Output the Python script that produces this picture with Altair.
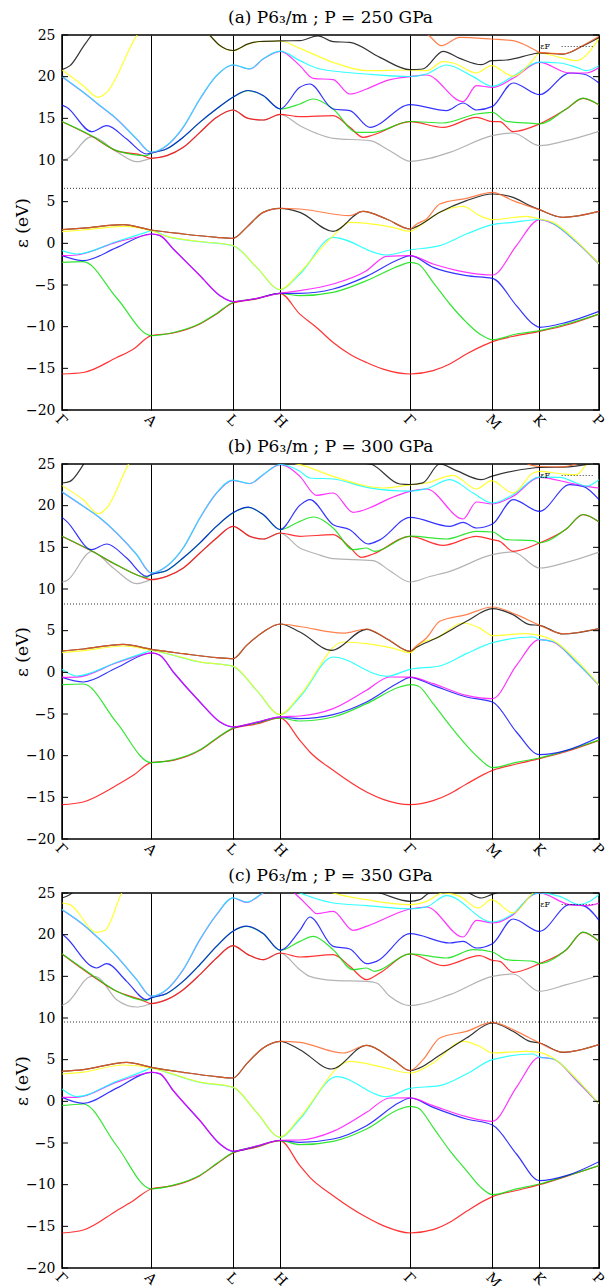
import altair as alt
import pandas as pd

# High-symmetry points along the k-path (path-length units) and their labels
K_LABELS = ["Γ", "A", "L", "H", "Γ", "M", "K", "P"]
K_TICKS = [0.0, 89.3, 171.0, 218.3, 348.3, 430.7, 477.7, 537.3]
G0, A, L, H, G1, M, K, P = K_TICKS
E_TICKS = list(range(-20, 26, 5))
E_RANGE = [-20, 25]

# gnuplot colour cycle used for successive bands
BAND_COLORS = ["#ff0000", "#00e000", "#0000ff", "#ff00ff", "#00ffff",
               "#ffff00", "#000000", "#ff6020", "#a0a0a0"]

# ---------------- (a) 250 GPa ----------------
A_EF = 6.6
A_B01 = [(G0,-15.68),(21.3,-15.5),(54.7,-13.7),(71.3,-12.7),(A,-11.08),(111.3,-10.76),(138,-9.68),(154.7,-8.48),(L,-7.16),(194.7,-6.68),(H,-6.0),(238,-8.5),(254.7,-10.1),(271.3,-11.9),(288,-13.3),(304.7,-14.3),(321.3,-15.1),(G1,-15.68),(371.3,-15.28),(388,-14.48),(404.7,-13.28),(421.3,-12.28),(M,-11.8),(454.7,-11.08),(K,-10.56),(504.7,-9.8),(P,-8.48)]
A_B02 = [(G0,-2.28),(21.3,-2.2),(54.7,-6.56),(A,-11.08),(111.3,-10.7),(138,-9.62),(154.7,-8.42),(L,-7.1),(194.7,-6.62),(H,-6.0),(238,-6.28),(271.3,-5.88),(304.7,-4.48),(338,-2.68),(G1,-2.28),(356.3,-2.48),(371.3,-4.68),(388,-7.28),(404.7,-9.48),(418,-10.88),(M,-11.56),(454.7,-10.88),(K,-10.48),(504.7,-9.68),(P,-8.48)]
A_B03 = [(G0,-1.48),(21.3,-2.08),(54.7,-0.51),(A,1.12),(98,0.92),(111.3,-0.68),(138,-3.88),(158,-6.28),(L,-7.0),(194.7,-6.62),(H,-6.0),(238,-6.0),(271.3,-5.48),(304.7,-3.96),(338,-1.88),(G1,-1.48),(371.3,-2.88),(404.7,-3.88),(M,-4.2),(454.7,-7.48),(471.3,-9.68),(K,-10.08),(504.7,-9.48),(P,-8.16)]
A_B04 = [(G0,-1.48),(14.7,-1.4),(54.7,0.15),(84.7,1.0),(A,1.12),(98,0.95),(111.3,-0.66),(138,-3.86),(158,-6.26),(L,-6.98),(194.7,-6.6),(H,-5.98),(238,-5.68),(271.3,-4.88),(304.7,-3.28),(324.7,-1.56),(G1,-1.48),(371.3,-2.48),(404.7,-3.48),(M,-3.8),(454.7,-0.28),(474.7,2.72),(K,2.84),(491.3,2.36),(514.7,0.14),(P,-2.48)]
A_B05 = [(G0,-0.88),(14.7,-1.28),(54.7,0.22),(84.7,1.35),(A,1.52),(104.7,0.84),(138,0.2),(L,-0.28),(194.7,-2.88),(H,-5.56),(238,-3.68),(271.3,0.72),(324.7,-1.4),(G1,-0.8),(378,-0.28),(404.7,1.12),(M,2.24),(451.3,2.52),(K,2.86),(491.3,2.4),(514.7,0.17),(P,-2.46)]
A_B06 = [(G0,1.4),(21.3,1.6),(61.3,2.04),(A,1.52),(104.7,0.86),(138,0.22),(L,-0.26),(194.7,-2.86),(H,-5.54),(238,-3.48),(271.3,0.9),(288,2.52),(304.7,2.4),(331,1.92),(G1,1.44),(358,2.12),(378,3.72),(401.3,4.44),(418,3.32),(M,2.84),(464.7,3.24),(K,2.92),(491.3,2.52),(514.7,0.3),(P,-2.44)]
A_B07 = [(G0,1.64),(21.3,1.82),(61.3,2.24),(A,1.6),(121.3,1.12),(154.7,0.72),(L,0.6),(184.7,1.92),(201.3,3.72),(H,4.2),(238,3.72),(271.3,1.44),(301,3.84),(324.7,2.92),(G1,1.72),(354.7,2.0),(378,3.72),(404.7,5.12),(M,5.92),(451.3,5.52),(468,4.52),(K,4.04),(501.3,3.12),(P,3.84)]
A_B08 = [(G0,1.64),(21.3,1.82),(61.3,2.24),(A,1.6),(121.3,1.12),(154.7,0.72),(L,0.6),(184.7,1.92),(201.3,3.72),(H,4.2),(238,4.12),(288,3.32),(301,3.84),(324.7,2.92),(G1,1.72),(354.7,2.3),(364.7,2.92),(378,4.72),(404.7,5.4),(M,6.12),(451.3,5.12),(K,4.04),(501.3,3.12),(P,3.84)]
A_B09 = [(G0,9.96),(4.7,10.12),(29.7,12.8),(54.7,11.0),(74.7,9.8),(A,10.2),(104.7,10.5),(121.3,11.5),(138,13.3),(154.7,15.1),(L,15.98),(186.3,14.98),(201.3,14.78),(H,15.46),(238,14.12),(254.7,13.2),(271.3,12.6),(308,12.32),(328,11.12),(G1,9.84),(368,10.2),(388,10.92),(M,12.92),(451.3,13.24),(K,11.72),(504.7,12.32),(P,13.44)]
A_B10 = [(G0,14.6),(29.7,12.85),(54.7,11.1),(79,10.6),(A,10.2),(104.7,10.52),(121.3,11.52),(138,13.32),(154.7,15.12),(L,16.0),(186.3,15.0),(201.3,14.8),(H,15.48),(238,15.2),(271.3,15.32),(288,13.92),(301.3,12.72),(311.3,13.0),(G1,14.6),(381.3,13.92),(414.7,15.12),(M,14.6),(438,14.6),(451.3,13.4),(K,14.32),(504.7,16.12),(521.3,17.4),(P,16.6)]
A_B11 = [(G0,14.6),(29.7,12.9),(54.7,11.12),(84.7,10.52),(A,10.8),(104.7,11.32),(121.3,12.72),(138,14.52),(154.7,16.12),(L,17.52),(186.3,18.32),(201.3,17.72),(H,16.12),(238,16.72),(251.3,17.32),(271.3,16.12),(294.7,13.32),(311.3,13.32),(G1,14.62),(381.3,14.44),(414.7,15.52),(M,15.72),(444.7,14.64),(471.3,14.4),(K,14.34),(504.7,16.14),(521.3,17.42),(P,16.62)]
A_B12 = [(G0,16.6),(4.7,16.32),(29.7,13.4),(44.7,14.12),(64.7,12.52),(84.7,10.72),(A,10.84),(104.7,11.34),(121.3,12.74),(138,14.54),(154.7,16.14),(L,17.54),(186.3,18.34),(201.3,17.74),(H,16.14),(238,18.72),(248,19.12),(271.3,16.12),(288,15.92),(308,13.92),(G1,16.64),(384.7,15.92),(401.3,16.84),(414.7,16.0),(M,16.44),(451.3,19.24),(K,17.84),(508,20.44),(521.3,20.32),(P,19.24)]
A_B13 = [(G0,20.0),(21.3,18.12),(38,16.52),(54.7,14.92),(74.7,12.52),(A,10.92),(104.7,11.72),(121.3,13.92),(138,17.32),(154.7,20.12),(L,21.4),(188,20.92),(201.3,22.12),(H,23.04),(238,21.32),(251.3,19.8),(271.3,19.64),(288,17.92),(304.7,18.52),(324.7,19.52),(G1,20.0),(364.7,20.2),(401.3,17.0),(414.7,18.92),(M,18.72),(451.3,19.8),(K,21.72),(508,20.44),(524.7,20.44),(P,21.1)]
A_B14 = [(G0,20.02),(21.3,18.14),(38,16.54),(54.7,14.94),(74.7,12.54),(A,10.94),(104.7,11.74),(121.3,13.94),(138,17.34),(154.7,20.14),(L,21.42),(188,20.94),(201.3,22.14),(H,23.06),(238,21.92),(258,20.92),(304.7,20.32),(G1,20.02),(364.7,20.32),(384.7,21.4),(411.3,20.0),(M,18.84),(451.3,20.04),(K,21.74),(498,21.64),(514.7,21.12),(524.7,20.72),(P,21.32)]
A_B15 = [(G0,20.8),(21.3,18.92),(36.3,17.52),(44.7,18.12),(74.7,24.92),(110,29.0),(148,24.92),(158,23.72),(L,23.12),(186.3,23.92),(198,24.2),(H,24.28),(238,23.4),(271.3,21.72),(304.7,20.72),(G1,20.8),(364.7,20.72),(381.3,21.8),(391.3,21.64),(414.7,20.44),(429.7,21.32),(451.3,20.06),(471.3,22.0),(K,22.84),(498,22.32),(514.7,21.92),(P,24.6)]
A_B16 = [(G0,20.84),(8,21.32),(21.3,23.6),(29.7,25.0),(60,29.0),(110,30.0),(148,24.94),(158,23.74),(L,23.14),(186.3,23.94),(198,24.22),(H,24.3),(238,24.32),(256,24.9),(271.3,24.2),(288,24.12),(318,22.32),(G1,20.84),(361,20.92),(381.3,23.04),(398,22.2),(419.7,21.44),(429.7,21.92),(444.7,22.0),(471.3,22.72),(K,22.86),(501.3,22.7),(521.3,23.7),(P,24.7)]
A_B17 = [(G1,27.0),(368,24.84),(379.7,23.72),(398,24.72),(429.7,24.52),(451.3,24.32),(471.3,23.32),(K,22.92),(501.3,22.74),(521.3,23.74),(P,24.84)]

# ---------------- (b) 300 GPa ----------------
B_EF = 8.2
B_B01 = [(G0,-15.88),(21.3,-15.56),(54.7,-13.56),(71.3,-12.36),(A,-10.84),(111.3,-10.56),(138,-9.36),(154.7,-7.96),(L,-6.76),(194.7,-6.2),(H,-5.48),(238,-8.16),(248,-9.56),(271.3,-11.76),(304.7,-14.36),(321.3,-15.24),(G1,-15.88),(371.3,-15.4),(388,-14.56),(404.7,-13.4),(M,-11.76),(454.7,-11.0),(K,-10.36),(504.7,-9.5),(P,-8.16)]
B_B02 = [(G0,-1.48),(21.3,-1.4),(54.7,-6.04),(A,-10.84),(111.3,-10.5),(138,-9.3),(154.7,-7.9),(L,-6.7),(194.7,-6.1),(H,-5.48),(238,-5.84),(271.3,-5.36),(304.7,-3.76),(338,-1.76),(G1,-1.48),(356.3,-1.64),(371.3,-3.76),(388,-6.36),(404.7,-8.76),(418,-10.4),(M,-11.44),(454.7,-10.8),(K,-10.28),(504.7,-9.4),(P,-8.14)]
B_B03 = [(G0,-0.6),(21.3,-1.16),(54.7,0.55),(A,2.32),(98,2.04),(111.3,0.04),(138,-3.56),(158,-5.96),(L,-6.56),(194.7,-6.0),(H,-5.36),(238,-5.56),(271.3,-5.08),(304.7,-3.56),(338,-1.16),(G1,-0.6),(371.3,-1.56),(404.7,-2.96),(M,-3.56),(454.7,-7.16),(K,-9.88),(504.7,-9.36),(P,-7.76)]
B_B04 = [(G0,-0.6),(14.7,-0.58),(54.7,1.15),(84.7,2.25),(A,2.34),(98,2.06),(111.3,0.06),(138,-3.54),(158,-5.94),(L,-6.54),(194.7,-5.98),(H,-5.34),(238,-5.24),(271.3,-4.36),(304.7,-2.16),(328,-0.56),(G1,-0.58),(371.3,-1.36),(404.7,-2.76),(M,-3.16),(454.7,0.84),(K,3.92),(491.3,3.64),(514.7,1.2),(P,-1.56)]
B_B05 = [(G0,0.36),(14.7,-0.44),(54.7,1.21),(84.7,2.45),(A,2.64),(104.7,2.24),(138,1.24),(L,0.72),(194.7,-2.16),(H,-5.08),(238,-2.96),(271.3,1.84),(324.7,-0.48),(G1,0.36),(378,0.76),(404.7,2.24),(M,3.56),(471.3,4.24),(K,3.96),(491.3,3.7),(514.7,1.24),(P,-1.54)]
B_B06 = [(G0,2.36),(21.3,2.6),(61.3,3.16),(A,2.66),(104.7,2.26),(138,1.26),(L,0.74),(194.7,-2.14),(H,-5.06),(238,-2.76),(281.3,3.64),(304.7,3.44),(331,2.9),(G1,2.36),(358,3.4),(374.7,4.12),(401.3,5.92),(418,5.3),(M,4.4),(464.7,4.64),(K,4.44),(491.3,3.84),(514.7,1.5),(P,-1.52)]
B_B07 = [(G0,2.56),(21.3,2.8),(61.3,3.36),(A,2.76),(121.3,2.24),(154.7,1.76),(L,1.64),(184.7,3.24),(201.3,4.84),(H,5.8),(238,4.84),(269.7,2.64),(304.7,5.16),(324.7,4.04),(G1,2.52),(354.7,3.0),(374.7,4.12),(404.7,6.12),(M,7.64),(451.3,6.92),(468,5.72),(K,5.64),(501.3,4.6),(P,5.24)]
B_B08 = [(G0,2.56),(21.3,2.8),(61.3,3.36),(A,2.76),(121.3,2.24),(154.7,1.76),(L,1.64),(184.7,3.24),(201.3,4.84),(H,5.8),(238,5.5),(281.3,4.7),(304.7,5.2),(324.7,4.06),(G1,2.54),(354.7,3.2),(364.7,4.12),(378,6.12),(404.7,6.92),(M,7.84),(454.7,6.92),(K,5.66),(501.3,4.62),(P,5.26)]
B_B09 = [(G0,10.84),(4.7,11.0),(29.7,14.5),(51.3,12.52),(74.7,10.64),(A,11.12),(104.7,11.5),(121.3,12.5),(138,14.3),(154.7,16.1),(L,17.5),(188,16.3),(201.3,15.98),(H,16.7),(238,14.92),(254.7,14.2),(271.3,13.64),(311.3,13.4),(328,12.2),(G1,10.84),(368,11.5),(388,12.12),(M,14.12),(451.3,14.44),(K,12.52),(504.7,13.2),(P,14.44)]
B_B10 = [(G0,16.32),(29.7,14.55),(51.3,13.1),(79,11.5),(A,11.12),(104.7,11.52),(121.3,12.52),(138,14.32),(154.7,16.12),(L,17.52),(188,16.32),(201.3,16.0),(H,16.72),(238,16.32),(271.3,16.52),(288,15.0),(299.7,13.8),(311.3,14.2),(G1,16.32),(381.3,15.24),(414.7,16.32),(M,15.92),(438,15.72),(451.3,14.52),(K,15.52),(504.7,17.2),(521.3,18.92),(P,18.04)]
B_B11 = [(G0,16.34),(29.7,14.57),(54.7,12.92),(84.7,11.4),(A,11.72),(104.7,12.2),(121.3,13.72),(138,15.52),(154.7,17.52),(L,19.12),(186.3,19.8),(201.3,18.92),(H,17.12),(238,18.12),(251.3,18.64),(271.3,17.32),(291.3,14.72),(304.7,14.92),(313,14.52),(G1,16.34),(384.7,16.0),(414.7,16.92),(M,16.84),(444.7,15.92),(471.3,15.8),(K,15.54),(504.7,17.22),(521.3,18.94),(P,18.06)]
B_B12 = [(G0,18.6),(4.7,18.12),(29.7,14.72),(44.7,15.4),(64.7,13.72),(84.7,11.52),(A,11.74),(104.7,12.22),(121.3,13.74),(138,15.54),(154.7,17.54),(L,19.14),(186.3,19.82),(201.3,18.94),(H,17.14),(238,20.04),(248,20.72),(271.3,17.72),(288,17.12),(306.3,15.4),(318,15.9),(G1,18.6),(388,17.52),(401.3,18.0),(414.7,17.32),(M,17.8),(451.3,20.72),(K,19.32),(508,22.52),(521.3,22.32),(P,20.72)]
B_B13 = [(G0,21.64),(21.3,19.92),(38,18.52),(54.7,16.72),(74.7,14.12),(A,11.92),(104.7,12.72),(121.3,14.92),(138,18.52),(154.7,21.52),(L,23.04),(188,22.64),(201.3,23.72),(H,24.92),(238,23.52),(254.7,21.24),(271.3,21.52),(291.3,19.2),(311.3,19.92),(324.7,20.7),(G1,21.72),(364.7,22.0),(401.3,18.4),(414.7,20.44),(M,20.2),(451.3,21.12),(K,23.4),(508,22.72),(524.7,22.32),(P,22.12)]
B_B14 = [(G0,21.66),(21.3,19.94),(38,18.54),(54.7,16.74),(74.7,14.14),(A,11.94),(104.7,12.74),(121.3,14.94),(138,18.54),(154.7,21.54),(L,23.06),(188,22.66),(201.3,23.74),(H,24.94),(238,24.12),(248,23.32),(271.3,23.2),(304.7,22.2),(G1,21.74),(364.7,22.04),(388,23.12),(411.3,21.52),(M,20.32),(451.3,21.32),(K,23.42),(498,23.4),(514.7,22.72),(524.7,22.34),(P,23.12)]
B_B15 = [(G0,22.4),(21.3,20.7),(36.3,19.04),(44.7,19.72),(66.3,24.92),(90,29.0),(130,29.0),(L,25.1),(H,25.3),(238,24.92),(271.3,23.52),(321.3,22.12),(G1,22.5),(364.7,22.72),(391.3,23.64),(414.7,22.0),(429.7,23.0),(451.3,21.52),(471.3,23.92),(K,24.12),(501.3,23.8),(514.7,23.72),(524.7,24.92),(P,26.0)]
B_B16 = [(G0,22.72),(8,22.92),(21.3,24.92),(40,29.0),(130,30.0),(L,25.3),(H,25.5),(238,25.6),(308,25.0),(338,22.6),(G1,22.54),(361,22.74),(378,25.0),(394.7,24.2),(419.7,23.12),(429.7,23.52),(471.3,24.52),(K,24.6),(501.3,24.62),(P,25.2)]
B_B17 = [(451.3,26.0),(471.3,24.8),(K,24.7),(501.3,24.66),(521.3,25.3),(P,26.0)]

# ---------------- (c) 350 GPa ----------------
C_EF = 9.52
C_B01 = [(G0,-15.8),(21.3,-15.44),(54.7,-13.12),(71.3,-11.92),(A,-10.52),(111.3,-10.12),(138,-8.92),(154.7,-7.52),(L,-6.2),(194.7,-5.5),(H,-4.72),(238,-7.72),(248,-9.12),(271.3,-11.32),(304.7,-13.92),(321.3,-14.92),(G1,-15.8),(371.3,-15.4),(388,-14.52),(404.7,-13.2),(M,-11.44),(454.7,-10.7),(K,-10.0),(504.7,-9.0),(P,-7.72)]
C_B02 = [(G0,-0.52),(21.3,-0.32),(54.7,-5.33),(A,-10.52),(111.3,-10.06),(138,-8.86),(154.7,-7.46),(L,-6.14),(194.7,-5.42),(H,-4.72),(238,-5.2),(271.3,-4.8),(304.7,-3.32),(338,-0.92),(G1,-0.6),(356.3,-0.8),(371.3,-3.12),(388,-5.92),(404.7,-8.32),(418,-10.2),(M,-11.2),(454.7,-10.5),(K,-9.92),(504.7,-8.95),(P,-7.7)]
C_B03 = [(G0,0.48),(21.3,-0.24),(54.7,1.59),(A,3.48),(98,3.3),(111.3,1.28),(138,-2.32),(158,-5.12),(L,-6.0),(194.7,-5.38),(H,-4.7),(238,-4.92),(271.3,-4.52),(304.7,-2.92),(338,-0.12),(G1,0.4),(371.3,-0.72),(404.7,-2.12),(M,-2.84),(454.7,-6.32),(K,-9.52),(504.7,-8.92),(P,-7.24)]
C_B04 = [(G0,0.48),(14.7,0.48),(54.7,2.3),(84.7,3.4),(A,3.5),(98,3.32),(111.3,1.3),(138,-2.3),(158,-5.1),(L,-5.98),(194.7,-5.36),(H,-4.68),(238,-4.64),(271.3,-3.6),(304.7,-1.32),(328,0.4),(G1,0.42),(371.3,-0.52),(404.7,-1.84),(M,-2.4),(454.7,1.68),(K,5.28),(491.3,5.08),(514.7,2.5),(P,-0.32)]
C_B05 = [(G0,1.48),(14.7,0.56),(54.7,2.4),(84.7,3.78),(A,4.0),(104.7,3.48),(138,2.28),(L,1.68),(194.7,-1.32),(H,-4.32),(238,-2.12),(274.7,2.96),(324.7,0.56),(G1,1.56),(378,1.88),(404.7,3.28),(M,5.0),(471.3,5.68),(K,5.3),(491.3,5.1),(514.7,2.6),(P,-0.3)]
C_B06 = [(G0,3.28),(21.3,3.5),(61.3,4.36),(A,4.02),(104.7,3.5),(138,2.3),(L,1.7),(194.7,-1.3),(H,-4.3),(238,-1.92),(288,4.8),(321.3,4.08),(G1,3.4),(371.3,4.6),(401.3,7.2),(418,6.6),(M,5.8),(464.7,6.0),(K,5.88),(491.3,5.2),(514.7,2.7),(P,-0.28)]
C_B07 = [(G0,3.6),(21.3,3.8),(64.7,4.68),(A,4.08),(121.3,3.48),(154.7,2.96),(L,2.8),(184.7,4.5),(201.3,6.4),(H,7.2),(238,6.2),(269.7,3.88),(304.7,6.72),(331.3,5.0),(G1,3.68),(361.3,4.2),(371.3,5.0),(404.7,7.6),(M,9.4),(451.3,8.4),(468,7.2),(K,7.0),(501.3,5.88),(P,6.8)]
C_B08 = [(G0,3.6),(21.3,3.8),(64.7,4.68),(A,4.08),(121.3,3.48),(154.7,2.96),(L,2.8),(184.7,4.5),(201.3,6.4),(H,7.2),(238,7.08),(281.3,5.8),(304.7,6.72),(331.3,5.02),(G1,3.7),(361.3,5.0),(378,7.6),(404.7,8.4),(M,9.48),(454.7,8.4),(K,7.02),(501.3,5.9),(P,6.82)]
C_B09 = [(G0,11.52),(4.7,11.8),(29.7,15.0),(34.7,14.95),(54.7,12.2),(74.7,11.32),(A,11.72),(104.7,12.2),(121.3,13.4),(138,15.2),(154.7,17.2),(L,18.66),(186.3,17.58),(201.3,16.98),(H,17.78),(238,15.8),(248,15.0),(271.3,14.52),(304.7,14.4),(314.7,14.2),(328,12.6),(G1,11.48),(388,12.8),(M,15.0),(451.3,15.28),(K,13.2),(504.7,14.0),(P,15.08)]
C_B10 = [(G0,17.68),(29.7,15.1),(54.7,13.2),(79,12.2),(A,11.72),(104.7,12.2),(121.3,13.4),(138,15.2),(154.7,17.2),(L,18.68),(186.3,17.6),(201.3,17.0),(H,17.8),(238,17.32),(271.3,17.6),(288,16.2),(304.7,14.6),(318,15.4),(G1,17.68),(381.3,16.28),(418,17.48),(M,16.92),(438,16.8),(451.3,15.48),(K,16.52),(504.7,18.2),(521.3,20.28),(P,19.2)]
C_B11 = [(G0,17.7),(29.7,15.2),(54.7,13.22),(84.7,12.12),(A,12.4),(104.7,12.92),(121.3,14.4),(138,16.4),(154.7,18.6),(L,20.4),(184.7,21.0),(201.3,20.12),(H,18.12),(238,19.2),(251.3,19.8),(271.3,18.2),(291.3,15.8),(304.7,16.0),(313,15.6),(G1,17.7),(384.7,17.2),(411.3,18.2),(M,17.92),(444.7,17.0),(471.3,16.8),(K,16.54),(504.7,18.22),(521.3,20.3),(P,19.22)]
C_B12 = [(G0,20.08),(4.7,19.6),(29.7,16.2),(34.7,16.0),(44.7,16.52),(64.7,14.4),(84.7,12.2),(A,12.42),(104.7,12.94),(121.3,14.42),(138,16.42),(154.7,18.62),(L,20.42),(184.7,21.02),(201.3,20.14),(H,18.14),(238,20.52),(248,22.12),(271.3,18.6),(288,18.28),(304.7,16.52),(314.7,16.8),(G1,20.12),(388,19.0),(401.3,19.2),(414.7,18.4),(M,18.92),(451.3,21.88),(K,20.4),(508,23.6),(521.3,23.48),(P,21.72)]
C_B13 = [(G0,23.0),(21.3,21.2),(38,19.4),(54.7,17.4),(74.7,14.6),(A,12.6),(104.7,13.4),(121.3,15.8),(138,19.4),(154.7,22.4),(L,24.4),(184.7,23.88),(201.3,25.0),(H,26.0),(238,24.4),(248,23.2),(254.7,22.52),(271.3,22.8),(291.3,20.52),(304.7,21.0),(G1,23.08),(364.7,23.32),(401.3,19.72),(414.7,21.72),(M,21.4),(451.3,22.4),(471.3,24.8),(K,25.0),(508,23.6),(524.7,23.48),(P,23.8)]
C_B14 = [(G0,23.02),(21.3,21.22),(38,19.42),(54.7,17.42),(74.7,14.62),(A,12.62),(104.7,13.42),(121.3,15.82),(138,19.42),(154.7,22.42),(L,24.42),(184.7,23.9),(201.3,25.02),(H,26.02),(238,25.0),(271.3,23.8),(304.7,23.48),(G1,23.1),(364.7,23.34),(384.7,24.68),(M,21.52),(451.3,22.52),(471.3,24.82),(K,25.02),(498,24.6),(518,23.6),(P,24.8)]
C_B15 = [(G0,23.8),(8,23.6),(34.7,20.28),(43,20.52),(59.7,25.0),(90,30.0),(L,29.0),(H,28.0),(271.3,25.0),(304.7,24.2),(G1,23.6),(364.7,24.0),(381.3,25.0),(398,24.6),(416.3,23.2),(429.7,24.2),(451.3,22.6),(471.3,25.0),(K,25.5),(P,27.0)]
C_B16 = [(G0,24.4),(4.7,24.6),(10,25.0),(30,29.0),(L,30.0),(318,25.0),(G1,24.0),(358,24.2),(368,25.0),(401.3,25.2),(419.7,24.4),(429.7,24.8),(460,26.0),(P,27.0)]

PANELS = [
    ("(a) P6\u2083/m ; P = 250 GPa", A_EF,
     [A_B01, A_B02, A_B03, A_B04, A_B05, A_B06, A_B07, A_B08, A_B09,
      A_B10, A_B11, A_B12, A_B13, A_B14, A_B15, A_B16, A_B17]),
    ("(b) P6\u2083/m ; P = 300 GPa", B_EF,
     [B_B01, B_B02, B_B03, B_B04, B_B05, B_B06, B_B07, B_B08, B_B09,
      B_B10, B_B11, B_B12, B_B13, B_B14, B_B15, B_B16, B_B17]),
    ("(c) P6\u2083/m ; P = 350 GPa", C_EF,
     [C_B01, C_B02, C_B03, C_B04, C_B05, C_B06, C_B07, C_B08, C_B09,
      C_B10, C_B11, C_B12, C_B13, C_B14, C_B15, C_B16]),
]

FONT = "DejaVu Serif"
PW, PH = 537, 375      # plot area of one panel
TICK_LEN = 6


def k_label_expr():
    """Map tick positions on the k-path to the symmetry-point names."""
    mids = [(K_TICKS[i] + K_TICKS[i + 1]) / 2 for i in range(len(K_TICKS) - 1)]
    expr = f"'{K_LABELS[-1]}'"
    for m, lab in reversed(list(zip(mids, K_LABELS[:-1]))):
        expr = f"datum.value < {m:.2f} ? '{lab}' : ({expr})"
    return expr


def panel(title, ef, bands):
    rows, names = [], []
    for i, pts in enumerate(bands):
        name = f"band {i + 1:02d}"
        names.append(name)
        rows += [{"k": k, "E": e, "band": name} for k, e in pts]
    df = pd.DataFrame(rows)
    colors = [BAND_COLORS[i % len(BAND_COLORS)] for i in range(len(names))]

    x = alt.X("k:Q", scale=alt.Scale(domain=[G0, P], nice=False, zero=False),
              axis=alt.Axis(values=K_TICKS, labelExpr=k_label_expr(), title=None,
                            grid=True, gridColor="black", gridOpacity=1, gridWidth=1,
                            ticks=False, domain=False, labelAngle=45,
                            labelFont=FONT, labelFontSize=14, labelColor="black",
                            labelPadding=2))
    y_axis = alt.Axis(values=E_TICKS, title="ε (eV)", grid=False, ticks=False,
                      domain=False, labelFont=FONT, labelFontSize=14,
                      labelColor="black", labelPadding=7, titleFont=FONT,
                      titleFontSize=17, titleFontWeight="normal",
                      titleColor="black", titleX=-40, titleY=PH / 2,
                      titleAngle=270, titleBaseline="middle", titleAlign="center")
    y_scale = alt.Scale(domain=E_RANGE, nice=False, zero=False)

    def y_enc():
        return alt.Y("E:Q", scale=y_scale, axis=y_axis)

    lines = alt.Chart(df).mark_line(
        interpolate="monotone", strokeWidth=1.2, opacity=0.8, clip=True
    ).encode(
        x=x, y=y_enc(),
        color=alt.Color("band:N", scale=alt.Scale(domain=names, range=colors), legend=None),
    )

    fermi = alt.Chart(pd.DataFrame({"E": [ef], "key": ["εF"]})).mark_rule(
        color="black", strokeWidth=0.8
    ).encode(
        y=y_enc(),
        strokeDash=alt.StrokeDash(
            "key:N", scale=alt.Scale(domain=["εF"], range=[[1, 2]]),
            legend=alt.Legend(title=None, orient="none", legendX=499, legendY=-5,
                              symbolType="stroke", symbolSize=1000,
                              symbolStrokeWidth=0.8, symbolStrokeColor="black",
                              labelFont=FONT, labelFontSize=8, labelColor="black",
                              labelAlign="right", labelOffset={"expr": "-44"})),
    )

    tick_df = pd.DataFrame({"E": E_TICKS})
    left_ticks = alt.Chart(tick_df).mark_rule(color="black", strokeWidth=1).encode(
        y=y_enc(), x=alt.value(0), x2=alt.value(TICK_LEN))
    right_ticks = alt.Chart(tick_df).mark_rule(color="black", strokeWidth=1).encode(
        y=y_enc(), x=alt.value(PW - TICK_LEN), x2=alt.value(PW))

    return alt.layer(lines, fermi, left_ticks, right_ticks).properties(
        width=PW, height=PH,
        title=alt.TitleParams(title, font=FONT, fontSize=17, fontWeight="normal",
                              color="black", anchor="middle", offset=1),
    )


chart = alt.vconcat(
    *[panel(t, ef, b) for t, ef, b in PANELS], spacing=54, bounds="flush"
).resolve_legend(strokeDash="independent").configure(
    padding={"left": 12, "top": 8, "right": 2, "bottom": 2}
).configure_view(stroke="black", strokeWidth=1.5)

chart.save("out.html", embed_options={"renderer": "svg", "actions": False})
